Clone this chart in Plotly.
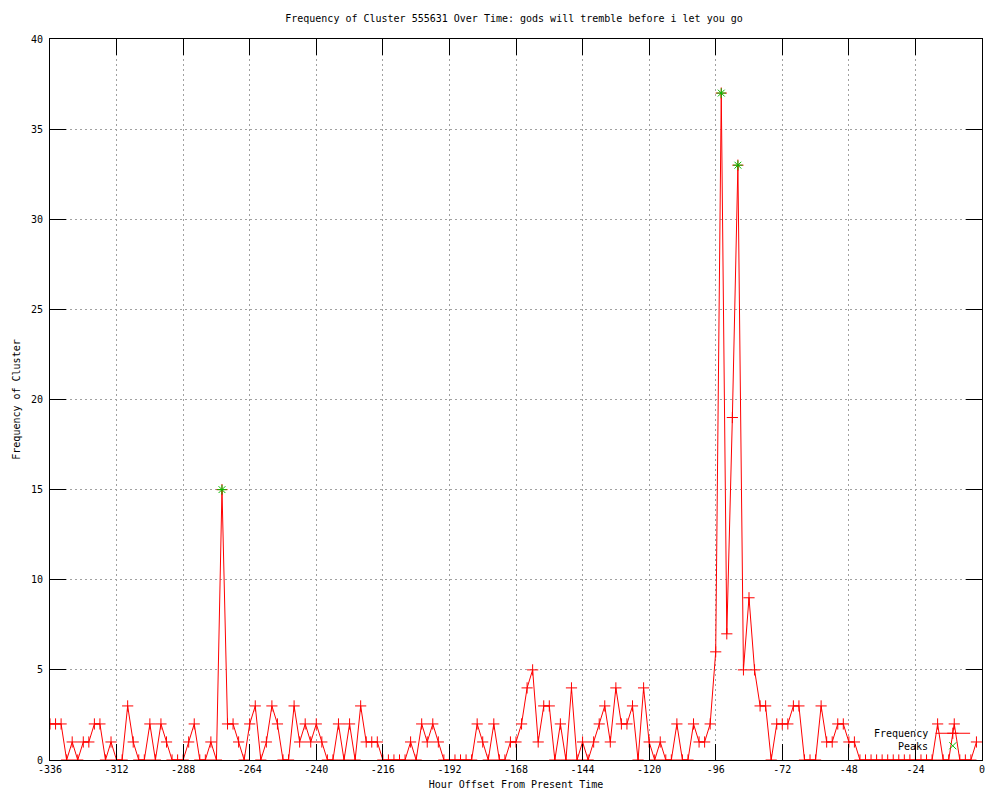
import plotly.graph_objects as go

# ---- data ----
title_text = "Frequency of Cluster 555631 Over Time: gods will tremble before i let you go"
x_label = "Hour Offset From Present Time"
y_label = "Frequency of Cluster"

hour_offsets = list(range(-336, 0, 2))  # one bin every 2 hours
frequency = [
    2, 2, 2, 0, 1, 0, 1, 1, 2, 2, 0, 1, 0, 0, 3, 1, 0, 0, 2, 0,
    2, 1, 0, 0, 0, 1, 2, 0, 0, 1, 0, 15, 2, 2, 1, 0, 2, 3, 0, 1,
    3, 2, 0, 0, 3, 1, 2, 1, 2, 1, 0, 0, 2, 0, 2, 0, 3, 1, 1, 1,
    0, 0, 0, 0, 0, 1, 0, 2, 1, 2, 1, 0, 0, 0, 0, 0, 0, 2, 1, 0,
    2, 0, 0, 1, 1, 2, 4, 5, 1, 3, 3, 0, 2, 0, 4, 0, 1, 0, 1, 2,
    3, 1, 4, 2, 2, 3, 0, 4, 1, 0, 1, 0, 0, 2, 0, 0, 2, 1, 1, 2,
    6, 37, 7, 19, 33, 5, 9, 5, 3, 3, 0, 2, 2, 2, 3, 3, 0, 0, 0, 3,
    1, 1, 2, 2, 1, 1, 0, 0, 0, 0, 0, 0, 0, 0, 0, 0, 0, 0, 0, 0,
    2, 0, 0, 2, 0, 0, 0, 1,
]
peak_hours = [-274, -94, -88]
peak_values = [15, 37, 33]

x_ticks = [-336, -312, -288, -264, -240, -216, -192, -168, -144, -120, -96, -72, -48, -24, 0]
y_ticks = [0, 5, 10, 15, 20, 25, 30, 35, 40]
legend_names = ["Frequency", "Peaks"]

# ---- style ----
FONT = "DejaVu Sans Mono"
RED = "#ff0000"
GREEN = "#00c000"
GRID = "#a0a0a0"

W, H = 1000, 800
L, R, T, B = 49.5, 18.3, 39, 40

fig = go.Figure()

fig.add_trace(go.Scatter(
    x=hour_offsets, y=frequency, mode="lines+markers", name=legend_names[0],
    line=dict(color=RED, width=1),
    marker=dict(symbol="cross-thin-open", size=8, color=RED,
                line=dict(color=RED, width=1)),
    cliponaxis=True, showlegend=False,
))
fig.add_trace(go.Scatter(
    x=peak_hours, y=peak_values, mode="markers", name=legend_names[1],
    marker=dict(symbol="asterisk-open", size=8, color=GREEN,
                line=dict(color=GREEN, width=1)),
    showlegend=False,
))

# legend in gnuplot style: text on the left, sample on the right
pw = W - L - R
ph = H - T - B
def px_x(p):
    return (p - L) / pw
def px_y(p):
    return (H - B - p) / ph

leg_text_x = px_x(930)
leg_rows = [px_y(733), px_y(746)]

fig.add_trace(go.Scatter(
    x=[0.0, 1.0], y=[0.5, 0.5], xaxis="x2", yaxis="y2", mode="lines",
    line=dict(color=RED, width=1), showlegend=False, hoverinfo="skip",
))
fig.add_trace(go.Scatter(
    x=[0.5], y=[0.5], xaxis="x2", yaxis="y2", mode="markers",
    marker=dict(symbol="cross-thin-open", size=8, color=RED, line=dict(color=RED, width=1)),
    showlegend=False, hoverinfo="skip",
))
fig.add_trace(go.Scatter(
    x=[0.5], y=[-0.5], xaxis="x2", yaxis="y2", mode="markers",
    marker=dict(symbol="x-thin-open", size=7, color=GREEN, line=dict(color=GREEN, width=1)),
    showlegend=False, hoverinfo="skip",
))

for name, yy in zip(legend_names, leg_rows):
    fig.add_annotation(
        x=leg_text_x, y=yy, xref="paper", yref="paper", text=name,
        showarrow=False, xanchor="right", yanchor="middle",
        font=dict(family=FONT, size=10, color="black"),
    )

axis_common = dict(
    showline=True, linecolor="black", linewidth=1, mirror="ticks",
    ticks="inside", ticklen=16, tickcolor="black", tickwidth=1,
    showgrid=True, gridcolor=GRID, griddash="2px,3px", gridwidth=1,
    zeroline=False, tickfont=dict(family=FONT, size=10, color="black"),
)

fig.update_layout(
    width=W, height=H,
    margin=dict(l=L, r=R, t=T, b=B, pad=0),
    paper_bgcolor="white", plot_bgcolor="rgba(0,0,0,0)",
    font=dict(family=FONT, size=10, color="black"),
    title=dict(text=title_text, x=0.514, xanchor="center", y=1 - 18 / H,
               yanchor="middle", yref="container",
               font=dict(family=FONT, size=10, color="black")),
    xaxis=dict(range=[-336, 0], tickvals=x_ticks, ticktext=[str(v) for v in x_ticks],
               title=dict(text=x_label, standoff=6, font=dict(family=FONT, size=10)),
               **axis_common),
    yaxis=dict(range=[0, 40], tickvals=y_ticks, ticktext=[str(v) for v in y_ticks],
               title=dict(text=y_label, standoff=8, font=dict(family=FONT, size=10)),
               ticklabelstandoff=4,
               **axis_common),
    xaxis2=dict(domain=[px_x(935), px_x(970)], range=[0, 1],
                anchor="y2", visible=False, fixedrange=True),
    yaxis2=dict(domain=[px_y(752), px_y(727)], range=[-1, 1],
                anchor="x2", visible=False, fixedrange=True),
    showlegend=False,
)

fig.write_html("out.html", config={"displayModeBar": False},
               post_script="document.body.style.margin='0';")
